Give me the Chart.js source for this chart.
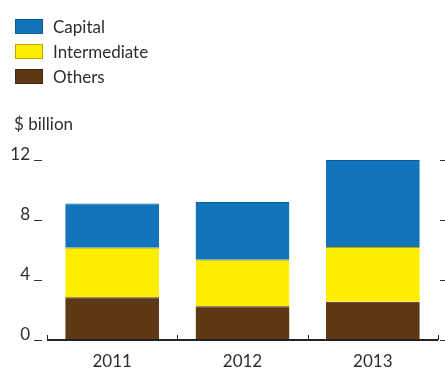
<!DOCTYPE html>
<html>
<head>
<meta charset="utf-8">
<script src="https://cdn.jsdelivr.net/npm/chart.js@4"></script>
<style>
  html, body { margin: 0; padding: 0; background: #fff; }
  #wrap { position: relative; width: 445px; height: 369px; font-family: Lato, "Open Sans", sans-serif; color: #2e2e2e; }
  #chart { position: absolute; left: 0; top: 0; }
  .lg { position: absolute; left: 15px; height: 15px; width: 28px; box-sizing: border-box; border: 1px solid; }
  .lt { position: absolute; left: 53px; font-size: 17px; line-height: 17px; }
  #unit { position: absolute; left: 14px; top: 115px; font-size: 17px; line-height: 17px; }
</style>
</head>
<body>
<div id="wrap">
  <canvas id="chart" width="445" height="369"></canvas>
  <div id="legend"></div>
  <div id="unit">$ billion</div>
</div>
<script>
const categories = ["2011", "2012", "2013"];
const seriesNames = ["Capital", "Intermediate", "Others"];
const capital = [2.95, 3.85, 5.8];
const intermediate = [3.3, 3.1, 3.65];
const others = [2.85, 2.25, 2.55];
const yTicks = [0, 4, 8, 12];

const fills = ["#1275bc", "#ffee00", "#5e3714"];
const borders = ["#0e5a92", "#b5a800", "#452710"];

// HTML legend
const legend = document.getElementById("legend");
seriesNames.forEach((name, i) => {
  const b = document.createElement("div");
  b.className = "lg";
  b.style.top = (19 + i * 25) + "px";
  b.style.background = fills[i];
  b.style.borderColor = borders[i];
  legend.appendChild(b);
  const t = document.createElement("div");
  t.className = "lt";
  t.style.top = (18 + i * 25) + "px";
  t.textContent = name;
  legend.appendChild(t);
});

const decor = {
  id: "decor",
  afterDraw(chart) {
    const ctx = chart.ctx;
    const ys = chart.scales.y;
    const area = chart.chartArea;
    const y0 = ys.getPixelForValue(0);
    ctx.save();
    ctx.strokeStyle = "#333";
    ctx.lineWidth = 1;
    yTicks.forEach(v => {
      const py = Math.round(ys.getPixelForValue(v)) + 0.5;
      ctx.beginPath(); ctx.moveTo(34, py); ctx.lineTo(42, py); ctx.stroke();
      ctx.beginPath(); ctx.moveTo(440, py); ctx.lineTo(445, py); ctx.stroke();
    });
    ctx.strokeStyle = "#222";
    ctx.lineWidth = 2;
    ctx.beginPath(); ctx.moveTo(area.left, y0); ctx.lineTo(area.right, y0); ctx.stroke();
    const step = (area.right - area.left) / categories.length;
    ctx.lineWidth = 1;
    for (let i = 0; i <= categories.length; i++) {
      const px = Math.round(area.left + i * step) + 0.5;
      ctx.beginPath(); ctx.moveTo(px, y0); ctx.lineTo(px, y0 - 5); ctx.stroke();
    }
    ctx.restore();
  }
};

new Chart(document.getElementById("chart"), {
  type: "bar",
  data: {
    labels: categories,
    datasets: [
      { label: seriesNames[2], data: others, backgroundColor: fills[2], borderColor: borders[2], borderWidth: {top: 1, left: 0, right: 0, bottom: 0}, borderSkipped: false },
      { label: seriesNames[1], data: intermediate, backgroundColor: fills[1], borderColor: borders[1], borderWidth: {top: 1, left: 0, right: 0, bottom: 0}, borderSkipped: false },
      { label: seriesNames[0], data: capital, backgroundColor: fills[0], borderColor: borders[0], borderWidth: {top: 1, left: 0, right: 0, bottom: 0}, borderSkipped: false }
    ]
  },
  options: {
    responsive: false,
    animation: false,
    layout: { padding: { top: 160, right: 7, bottom: 0, left: 0 } },
    plugins: { legend: { display: false }, tooltip: { enabled: false } },
    datasets: { bar: { barPercentage: 0.72, categoryPercentage: 1.0 } },
    scales: {
      x: {
        stacked: true,
        grid: { display: false, drawTicks: false },
        border: { display: false },
        ticks: { color: "#2e2e2e", font: { family: "Lato", size: 17 }, padding: 11, maxRotation: 0 },
        afterFit(s) { s.height = 29; }
      },
      y: {
        stacked: true,
        min: 0, max: 12,
        afterBuildTicks(s) { s.ticks = yTicks.map(v => ({ value: v })); },
        grid: { display: false, drawTicks: false },
        border: { display: false },
        ticks: { color: "#2e2e2e", font: { family: "Lato", size: 17 }, padding: 17, labelOffset: -5 },
        afterFit(s) { s.width = 47; }
      }
    }
  },
  plugins: [decor]
});
</script>
</body>
</html>
